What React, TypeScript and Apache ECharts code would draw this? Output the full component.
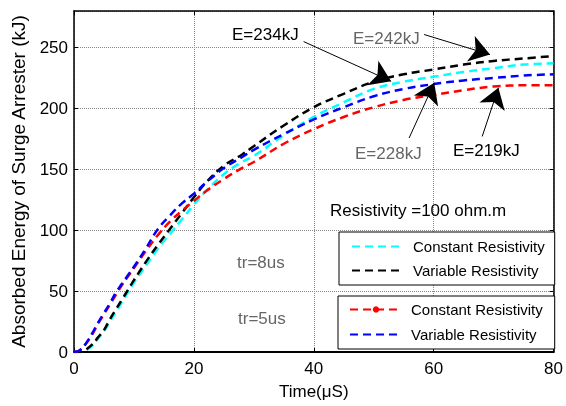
import React, { useEffect, useRef } from "react";
import * as echarts from "echarts";

// Time axis (µs)
const timeUs = [0, 1, 2, 3, 4, 5, 6, 7, 8, 9, 10, 12, 14, 16, 18, 20, 22, 25, 28, 30, 35, 40, 45, 50, 55, 60, 65, 70, 75, 80];

// tr = 8 us
const tr8Constant = [0, 0, 1.5, 5, 11, 17, 25, 33, 41, 49, 57, 71, 85, 97, 109, 121, 132, 146, 156, 161, 178, 193, 205, 216, 222, 226, 230, 233, 236, 237];
const tr8Variable = [0, 0, 2, 6, 12, 18, 27, 35, 43, 51, 59, 74, 88, 101, 114, 127, 139, 153, 162, 169, 186, 201, 212, 222, 228, 232, 236, 239, 241, 243];

// tr = 5 us
const tr5Constant = [0, 1.5, 7, 14, 23, 31, 39, 47, 55, 62, 69, 83, 96, 107, 116, 124, 132, 142, 151, 156, 171, 183, 193, 201, 207, 211, 215, 218, 219, 219];
const tr5Variable = [0, 1.5, 7, 15, 24, 32, 40, 49, 56, 63, 70, 85, 101, 112, 122, 130, 139, 151, 160, 166, 179, 191, 201, 210, 216, 220, 223, 225, 227, 228];

const xTicks = [0, 20, 40, 60, 80];
const yTicks = [0, 50, 100, 150, 200, 250];

// Annotation arrows (data coords): from -> to
const arrowFromX = [38.3, 58.4, 55.9, 68.1];
const arrowFromY = [254.9, 260.7, 175.7, 177];
const arrowToX = [52.9, 69.4, 60.1, 70.8];
const arrowToY = [222.3, 244.2, 221, 216.9];

const legendLabels: Record<string, string> = {
  tr8c: "Constant Resistivity",
  tr8v: "Variable Resistivity",
  tr5c: "Constant Resistivity",
  tr5v: "Variable Resistivity",
};

export default function App() {
  const ref = useRef<HTMLDivElement>(null);
  useEffect(() => {
    const chart = echarts.init(ref.current!, null, { renderer: "svg" });
    const font = "Liberation Sans, Arial, Helvetica, sans-serif";
    const pairs = (ys: number[]) => timeUs.map((t, i) => [t, ys[i]]);
    const dash = [8, 5];
    const mk = (name: string, color: string, ys: number[], extra: any = {}) => ({
      type: "line",
      name,
      data: pairs(ys),
      symbol: "none",
      smooth: 0.4,
      lineStyle: { color, width: 2.5, type: dash },
      itemStyle: { color },
      emphasis: { disabled: true },
      ...extra,
    });

    const arrows = arrowFromX.map((_, i) => [
      { coord: [arrowFromX[i], arrowFromY[i]] },
      { coord: [arrowToX[i], arrowToY[i]] },
    ]);

    const textEl = (text: string, x: number, y: number, color: string, size = 17) => ({
      type: "text",
      x,
      y,
      z: 100,
      style: {
        text,
        fill: color,
        font: `${size}px ${font}`,
        textAlign: "left",
        textVerticalAlign: "middle",
      },
    });

    const legendBase = {
      orient: "vertical",
      itemWidth: 52,
      itemHeight: 8,
      borderColor: "#000",
      borderWidth: 1,
      borderRadius: 0,
      backgroundColor: "#fff",
      formatter: (n: string) => legendLabels[n],
      textStyle: { fontSize: 15, color: "#000", fontFamily: font, padding: [0, 0, 0, 4] },
      itemStyle: { opacity: 0 },
      selectedMode: false,
      z: 50,
    };

    chart.setOption({
      animation: false,
      grid: { left: 74, right: 9, top: 11, bottom: 54 },
      legend: [
        { ...legendBase, data: ["tr8c", "tr8v"], left: 339, top: 232, itemGap: 9, padding: [7, 10, 7, 12] },
        {
          ...legendBase,
          data: [{ name: "tr5c", itemStyle: { opacity: 1 } }, "tr5v"],
          left: 338,
          top: 296,
          itemGap: 10,
          padding: [6, 12, 7, 11],
        },
      ],
      xAxis: [
        {
          type: "value",
          min: xTicks[0],
          max: xTicks[xTicks.length - 1],
          interval: 20,
          name: "Time(μS)",
          nameLocation: "middle",
          nameGap: 31,
          nameTextStyle: { fontSize: 17, color: "#000", fontFamily: font },
          axisLine: { show: true, onZero: false, lineStyle: { color: "#000", width: 2 } },
          axisTick: { show: true, inside: true, length: 4, lineStyle: { color: "#000" } },
          axisLabel: { fontSize: 17, color: "#000", fontFamily: font, margin: 8 },
          splitLine: { show: true, lineStyle: { color: "#888", type: "dotted", width: 1 } },
        },
        {
          type: "value",
          position: "top",
          min: 0,
          max: 80,
          interval: 20,
          axisLine: { show: true, onZero: false, lineStyle: { color: "#000", width: 1.5 } },
          axisTick: { show: true, inside: true, length: 4, lineStyle: { color: "#000" } },
          axisLabel: { show: false },
          splitLine: { show: false },
        },
      ],
      yAxis: [
        {
          type: "value",
          min: yTicks[0],
          max: 280,
          interval: 50,
          name: "Absorbed Energy of Surge Arrester (kJ)",
          nameLocation: "middle",
          nameGap: 46,
          nameTextStyle: { fontSize: 19, color: "#000", fontFamily: font },
          axisLine: { show: true, onZero: false, lineStyle: { color: "#000", width: 1.5 } },
          axisTick: { show: true, inside: true, length: 4, lineStyle: { color: "#000" } },
          axisLabel: { fontSize: 17, color: "#000", fontFamily: font, margin: 6, showMaxLabel: false },
          splitLine: { show: true, lineStyle: { color: "#888", type: "dotted", width: 1 } },
        },
        {
          type: "value",
          position: "right",
          min: 0,
          max: 280,
          interval: 50,
          axisLine: { show: true, onZero: false, lineStyle: { color: "#000", width: 1.5 } },
          axisTick: { show: true, inside: true, length: 4, lineStyle: { color: "#000" } },
          axisLabel: { show: false },
          splitLine: { show: false },
        },
      ],
      series: [
        mk("tr8c", "#00ffff", tr8Constant),
        mk("tr8v", "#000000", tr8Variable, {
          markLine: {
            silent: true,
            symbol: ["none", "arrow"],
            symbolSize: 20,
            label: { show: false },
            lineStyle: { color: "#000", width: 1, type: "solid" },
            emphasis: { disabled: true },
            data: arrows,
          },
        }),
        mk("tr5c", "#ff0000", tr5Constant, { symbol: "circle", symbolSize: 7, showSymbol: false }),
        mk("tr5v", "#0000ff", tr5Variable),
      ],
      graphic: [
        textEl("E=234kJ", 232, 34, "#000"),
        textEl("E=242kJ", 353, 38, "#666"),
        textEl("E=228kJ", 355, 153, "#666"),
        textEl("E=219kJ", 453, 150, "#000"),
        textEl("Resistivity =100 ohm.m", 330, 210, "#000"),
        textEl("tr=8us", 237, 262, "#666"),
        textEl("tr=5us", 238, 318, "#666"),
      ],
    });
    return () => chart.dispose();
  }, []);
  return <div ref={ref} style={{ position: "fixed", left: 0, top: 0, width: 566, height: 406 }} />;
}
